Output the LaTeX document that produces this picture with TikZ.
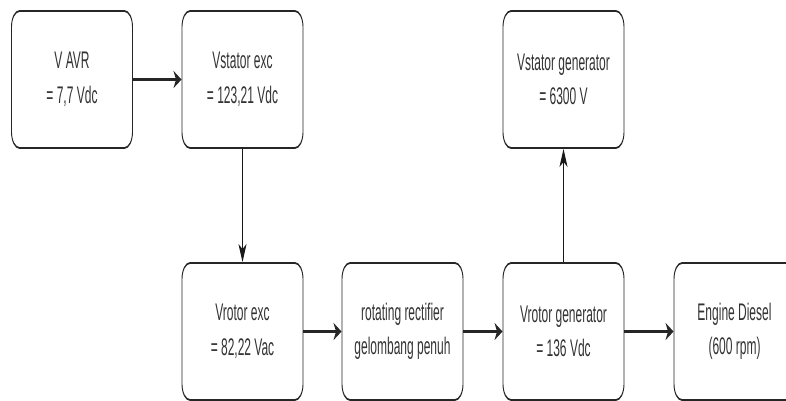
\documentclass[tikz,border=0pt]{standalone}
\usepackage{fontspec}
\setmainfont{Liberation Sans}
\usetikzlibrary{arrows.meta}
\tikzset{
  blockbox/.style={draw=black!85, line width=1.8pt, rounded corners=16pt,
    minimum width=242pt, minimum height=137pt, inner sep=0pt,
    align=center, text=black!80, font=\fontsize{24}{34.5}\selectfont},
  flowthick/.style={line width=3pt, draw=black!85,
    -{Stealth[length=16pt,width=17pt,inset=5pt]}},
  flowthin/.style={line width=2pt, draw=black!90,
    -{Stealth[length=18pt,width=16pt,inset=5pt]}}
}
\begin{document}
\begin{tikzpicture}
\useasboundingbox (0,0) rectangle (786pt,-400pt);
\clip (0,0) rectangle (786pt,-400pt);
\begin{scope}[x=2pt,y=-1pt,transform canvas={xscale=0.5}]
  \node[blockbox] (avr)  at (72,79.5)    {V AVR\\= 7,7 Vdc};
  \node[blockbox] (sexc) at (242.5,79.5) {Vstator exc\\= 123,21 Vdc};
  \node[blockbox] (sgen) at (563.5,79.5) {Vstator generator\\= 6300 V};
  \node[blockbox] (rexc) at (242.5,331.5) {Vrotor exc\\= 82,22 Vac};
  \node[blockbox] (rect) at (402.5,331.5) {rotating rectifier\\gelombang penuh};
  \node[blockbox] (rgen) at (563.5,331.5) {Vrotor generator\\= 136 Vdc};
  \node[blockbox] (eng)  at (734.5,331.5) {Engine Diesel\\(600 rpm)};
  \draw[flowthick] (avr) -- (sexc);
  \draw[flowthin] (sexc) -- (rexc);
  \draw[flowthick] (rexc) -- (rect);
  \draw[flowthick] (rect) -- (rgen);
  \draw[flowthick] (rgen) -- (eng);
  \draw[flowthin] (rgen) -- (sgen);
\end{scope}
\end{tikzpicture}
\end{document}
